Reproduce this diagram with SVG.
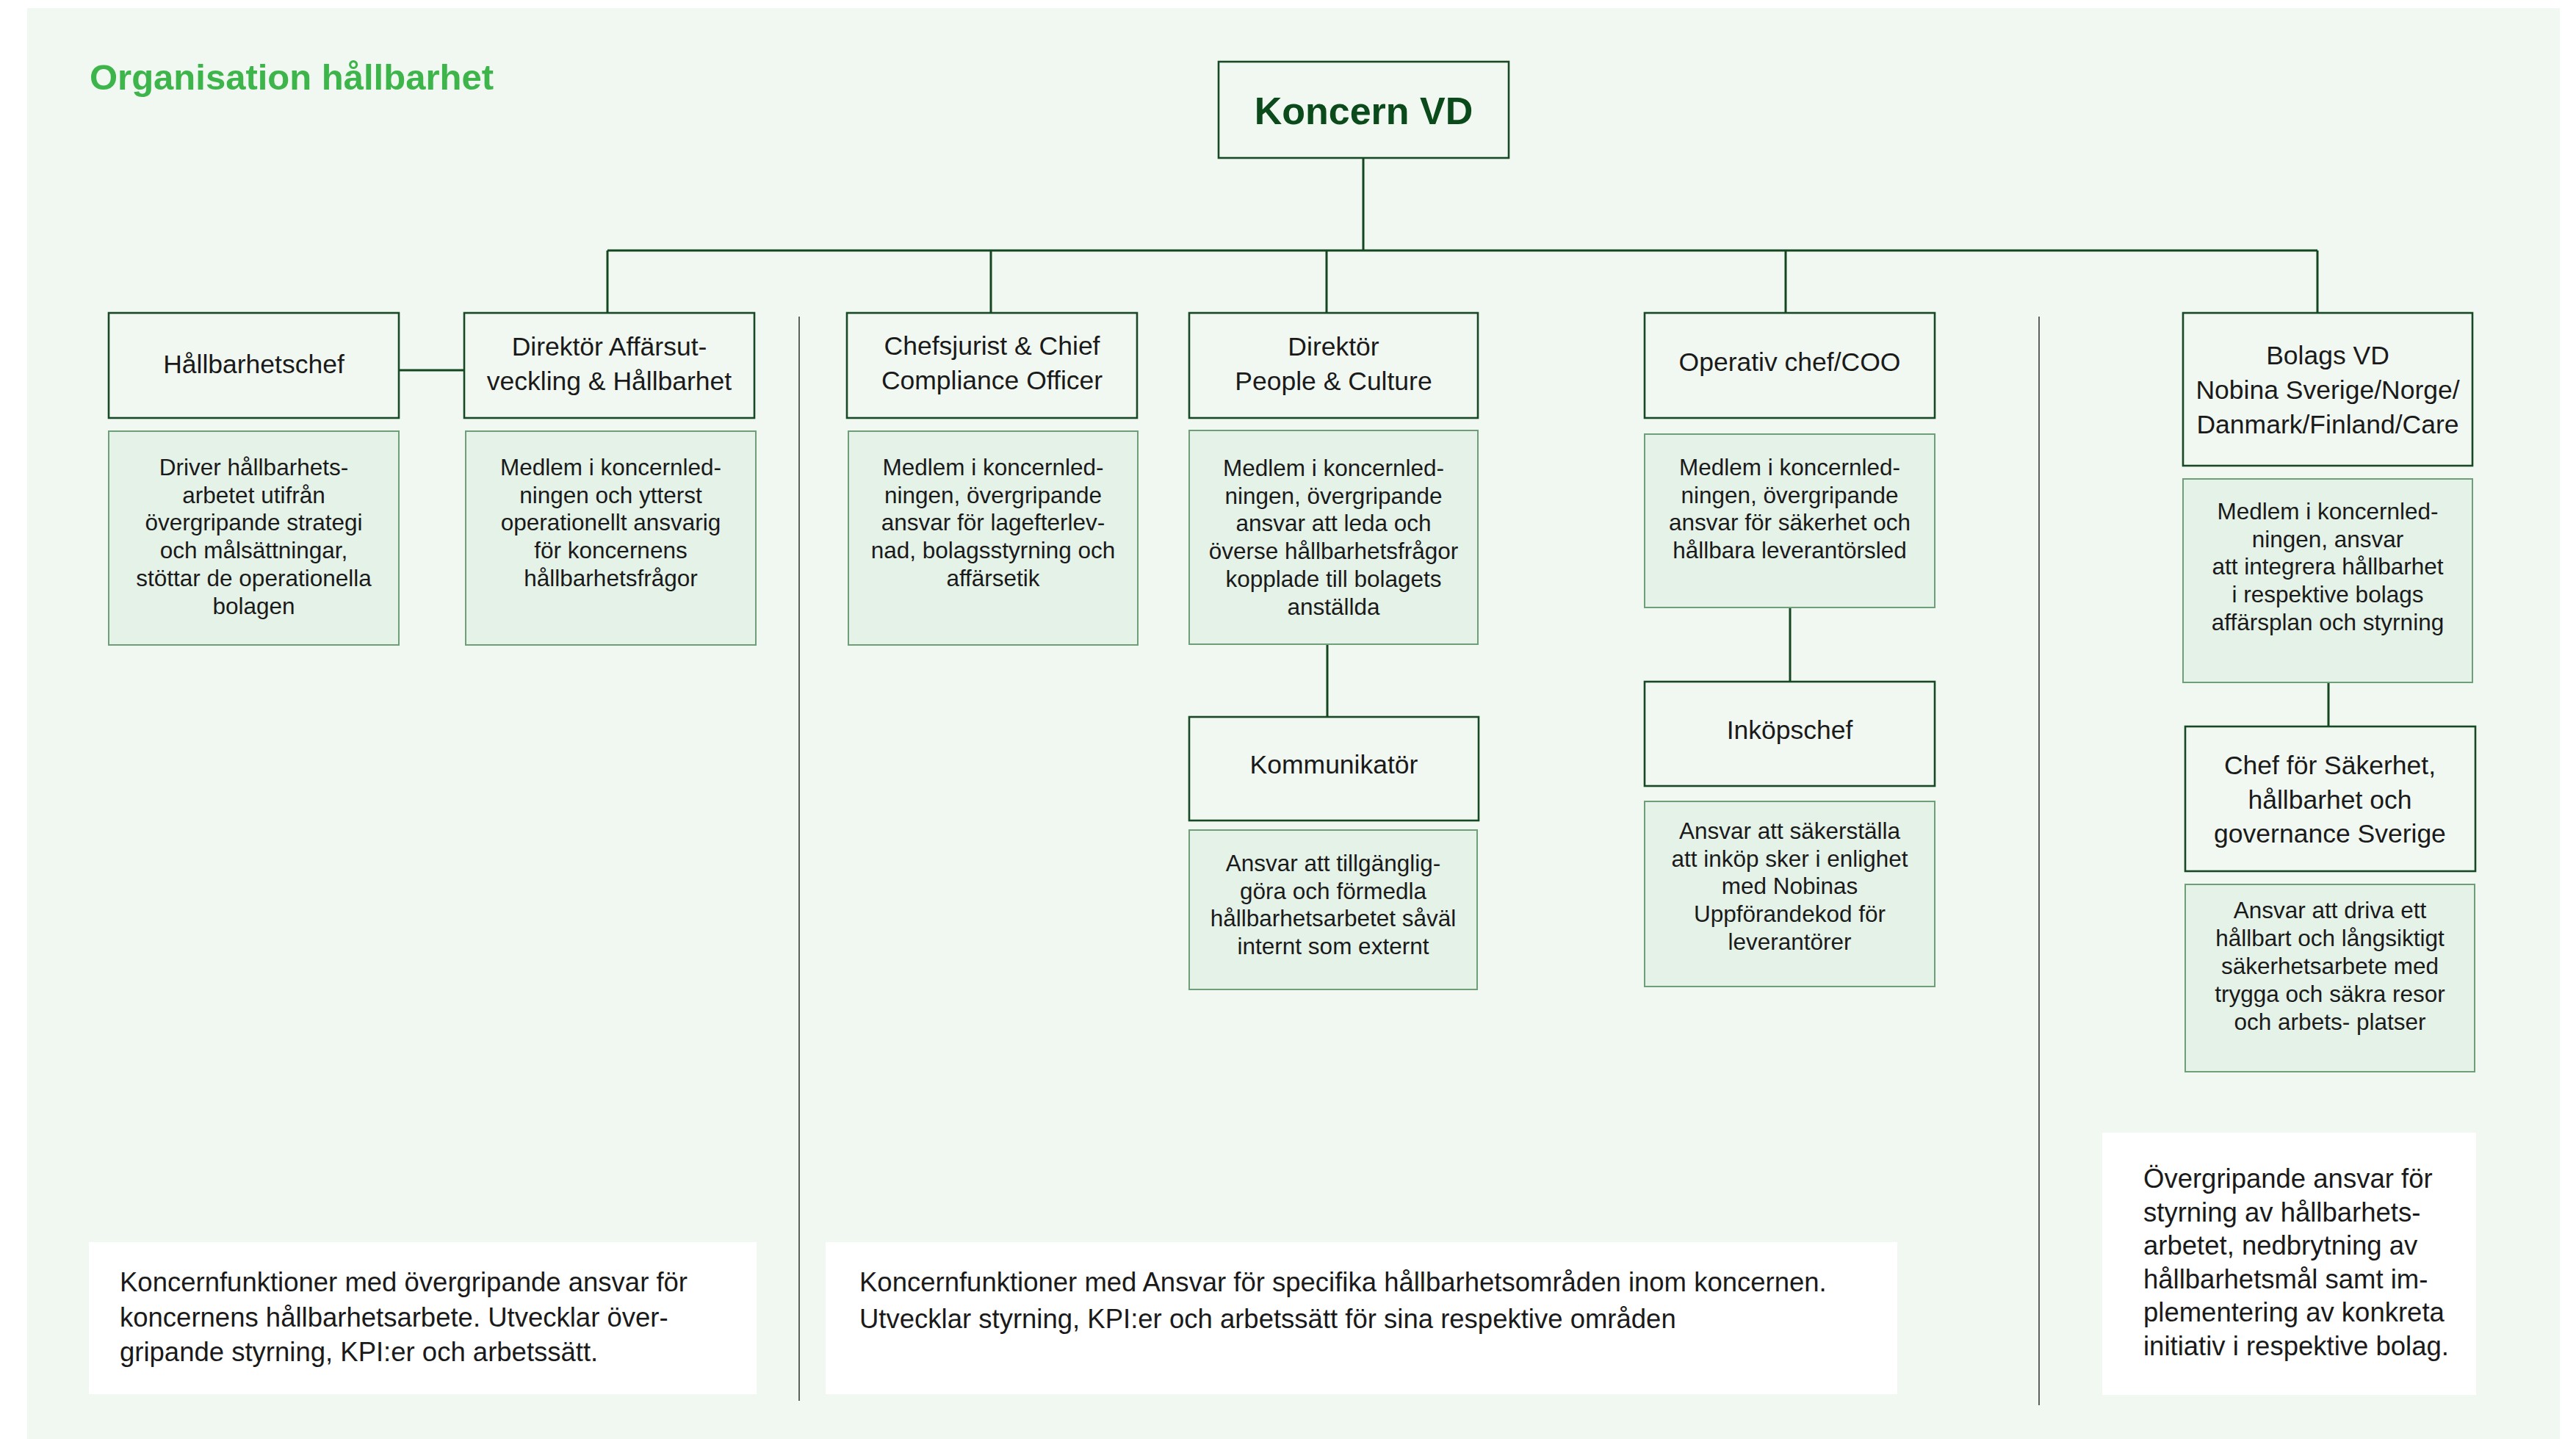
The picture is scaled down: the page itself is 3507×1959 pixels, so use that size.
<svg xmlns="http://www.w3.org/2000/svg" width="3507" height="1959" viewBox="0 0 3507 1959">
<style>
.bg{fill:#f1f8f2}
.node rect{fill:#f1f8f2;stroke:#174a24;stroke-width:2.6}
.desc rect{fill:#e5f2e8;stroke:#6f9f79;stroke-width:2}
.note rect{fill:#ffffff}
text{font-family:'Liberation Sans',Arial,sans-serif;fill:#1a1a1a}
.t{font-size:35.5px;text-anchor:middle}
.d{font-size:31.5px;text-anchor:middle}
.b{font-size:36.5px}
.conn path{fill:none;stroke:#144620;stroke-width:3}
.sep path{fill:none;stroke:#3a3a3a;stroke-width:1.6}
</style>
<rect width="3507" height="1959" fill="#ffffff"/>
<rect class="bg" x="37" y="11" width="3448" height="1948"/>
<text x="122" y="122" style="font-size:49px;font-weight:bold;fill:#3db54a">Organisation hållbarhet</text>

<g class="sep">
<path d="M1088 431V1907"/>
<path d="M2776 431V1913"/>
</g>

<g class="conn">
<path d="M1856 215V341"/>
<path d="M827 341H3155"/>
<path d="M827 341V426"/>
<path d="M1349 341V426"/>
<path d="M1806 341V426"/>
<path d="M2431 341V426"/>
<path d="M3155 341V426"/>
<path d="M543 504H632"/>
<path d="M1807 877V976"/>
<path d="M2437 827V928"/>
<path d="M3170 929V989"/>
</g>

<g id="koncern-vd" class="node">
<rect x="1659" y="84" width="395" height="131"/>
<text x="1856.5" y="169" style="font-size:52px;font-weight:bold;fill:#0b4a1b;text-anchor:middle">Koncern VD</text>
</g>

<g id="hallbarhetschef" class="node">
<rect x="148" y="426" width="395" height="143"/>
<text class="t" x="345.5" y="508">Hållbarhetschef</text>
</g>
<g id="hallbarhetschef-desc" class="desc">
<rect x="148" y="587" width="395" height="291"/>
<text class="d" x="345.5" y="646.7">Driver hållbarhets-<tspan x="345.5" dy="37.8">arbetet utifrån</tspan><tspan x="345.5" dy="37.8">övergripande strategi</tspan><tspan x="345.5" dy="37.8">och målsättningar,</tspan><tspan x="345.5" dy="37.8">stöttar de operationella</tspan><tspan x="345.5" dy="37.8">bolagen</tspan></text>
</g>

<g id="direktor-affarsutveckling" class="node">
<rect x="632" y="426" width="395" height="143"/>
<text class="t" x="829.5" y="484">Direktör Affärsut-<tspan x="829.5" dy="47">veckling &amp; Hållbarhet</tspan></text>
</g>
<g id="direktor-affarsutveckling-desc" class="desc">
<rect x="634" y="587" width="395" height="291"/>
<text class="d" x="831.5" y="646.7">Medlem i koncernled-<tspan x="831.5" dy="37.8">ningen och ytterst</tspan><tspan x="831.5" dy="37.8">operationellt ansvarig</tspan><tspan x="831.5" dy="37.8">för koncernens</tspan><tspan x="831.5" dy="37.8">hållbarhetsfrågor</tspan></text>
</g>

<g id="chefsjurist" class="node">
<rect x="1153" y="426" width="395" height="143"/>
<text class="t" x="1350.5" y="483">Chefsjurist &amp; Chief<tspan x="1350.5" dy="47">Compliance Officer</tspan></text>
</g>
<g id="chefsjurist-desc" class="desc">
<rect x="1155" y="587" width="394" height="291"/>
<text class="d" x="1352" y="646.7">Medlem i koncernled-<tspan x="1352" dy="37.8">ningen, övergripande</tspan><tspan x="1352" dy="37.8">ansvar för lagefterlev-</tspan><tspan x="1352" dy="37.8">nad, bolagsstyrning och</tspan><tspan x="1352" dy="37.8">affärsetik</tspan></text>
</g>

<g id="direktor-people-culture" class="node">
<rect x="1619" y="426" width="393" height="143"/>
<text class="t" x="1815.5" y="484">Direktör<tspan x="1815.5" dy="47">People &amp; Culture</tspan></text>
</g>
<g id="direktor-people-culture-desc" class="desc">
<rect x="1619" y="586" width="393" height="291"/>
<text class="d" x="1815.5" y="647.7">Medlem i koncernled-<tspan x="1815.5" dy="37.8">ningen, övergripande</tspan><tspan x="1815.5" dy="37.8">ansvar att leda och</tspan><tspan x="1815.5" dy="37.8">överse hållbarhetsfrågor</tspan><tspan x="1815.5" dy="37.8">kopplade till bolagets</tspan><tspan x="1815.5" dy="37.8">anställda</tspan></text>
</g>

<g id="kommunikator" class="node">
<rect x="1619" y="976" width="394" height="141"/>
<text class="t" x="1816" y="1053">Kommunikatör</text>
</g>
<g id="kommunikator-desc" class="desc">
<rect x="1619" y="1130" width="392" height="217"/>
<text class="d" x="1815" y="1185.7">Ansvar att tillgänglig-<tspan x="1815" dy="37.8">göra och förmedla</tspan><tspan x="1815" dy="37.8">hållbarhetsarbetet såväl</tspan><tspan x="1815" dy="37.8">internt som externt</tspan></text>
</g>

<g id="operativ-chef" class="node">
<rect x="2239" y="426" width="395" height="143"/>
<text class="t" x="2436.5" y="505">Operativ chef/COO</text>
</g>
<g id="operativ-chef-desc" class="desc">
<rect x="2239" y="591" width="395" height="236"/>
<text class="d" x="2436.5" y="646.7">Medlem i koncernled-<tspan x="2436.5" dy="37.8">ningen, övergripande</tspan><tspan x="2436.5" dy="37.8">ansvar för säkerhet och</tspan><tspan x="2436.5" dy="37.8">hållbara leverantörsled</tspan></text>
</g>

<g id="inkopschef" class="node">
<rect x="2239" y="928" width="395" height="142"/>
<text class="t" x="2436.5" y="1006">Inköpschef</text>
</g>
<g id="inkopschef-desc" class="desc">
<rect x="2239" y="1091" width="395" height="252"/>
<text class="d" x="2436.5" y="1141.7">Ansvar att säkerställa<tspan x="2436.5" dy="37.8">att inköp sker i enlighet</tspan><tspan x="2436.5" dy="37.8">med Nobinas</tspan><tspan x="2436.5" dy="37.8">Uppförandekod för</tspan><tspan x="2436.5" dy="37.8">leverantörer</tspan></text>
</g>

<g id="bolags-vd" class="node">
<rect x="2972" y="426" width="394" height="208"/>
<text class="t" x="3169" y="496">Bolags VD<tspan x="3169" dy="47">Nobina Sverige/Norge/</tspan><tspan x="3169" dy="47">Danmark/Finland/Care</tspan></text>
</g>
<g id="bolags-vd-desc" class="desc">
<rect x="2972" y="652" width="394" height="277"/>
<text class="d" x="3169" y="706.7">Medlem i koncernled-<tspan x="3169" dy="37.8">ningen, ansvar</tspan><tspan x="3169" dy="37.8">att integrera hållbarhet</tspan><tspan x="3169" dy="37.8">i respektive bolags</tspan><tspan x="3169" dy="37.8">affärsplan och styrning</tspan></text>
</g>

<g id="chef-sakerhet" class="node">
<rect x="2975" y="989" width="395" height="197"/>
<text class="t" x="3172" y="1054">Chef för Säkerhet,<tspan x="3172" dy="46.5">hållbarhet och</tspan><tspan x="3172" dy="46.5">governance Sverige</tspan></text>
</g>
<g id="chef-sakerhet-desc" class="desc">
<rect x="2975" y="1204" width="394" height="255"/>
<text class="d" x="3172" y="1250">Ansvar att driva ett<tspan x="3172" dy="38.1">hållbart och långsiktigt</tspan><tspan x="3172" dy="38.1">säkerhetsarbete med</tspan><tspan x="3172" dy="38.1">trygga och säkra resor</tspan><tspan x="3172" dy="38.1">och arbets- platser</tspan></text>
</g>

<g id="note-left" class="note">
<rect x="121" y="1691" width="909" height="207"/>
<text class="b" x="163" y="1758">Koncernfunktioner med övergripande ansvar för<tspan x="163" dy="47.5">koncernens hållbarhetsarbete. Utvecklar över-</tspan><tspan x="163" dy="47.5">gripande styrning, KPI:er och arbetssätt.</tspan></text>
</g>

<g id="note-middle" class="note">
<rect x="1124" y="1691" width="1459" height="207"/>
<text class="b" x="1170" y="1758">Koncernfunktioner med Ansvar för specifika hållbarhetsområden inom koncernen.<tspan x="1170" dy="50">Utvecklar styrning, KPI:er och arbetssätt för sina respektive områden</tspan></text>
</g>

<g id="note-right" class="note">
<rect x="2862" y="1542" width="509" height="357"/>
<text class="b" x="2918" y="1617">Övergripande ansvar för<tspan x="2918" dy="45.6">styrning av hållbarhets-</tspan><tspan x="2918" dy="45.6">arbetet, nedbrytning av</tspan><tspan x="2918" dy="45.6">hållbarhetsmål samt im-</tspan><tspan x="2918" dy="45.6">plementering av konkreta</tspan><tspan x="2918" dy="45.6">initiativ i respektive bolag.</tspan></text>
</g>
</svg>
